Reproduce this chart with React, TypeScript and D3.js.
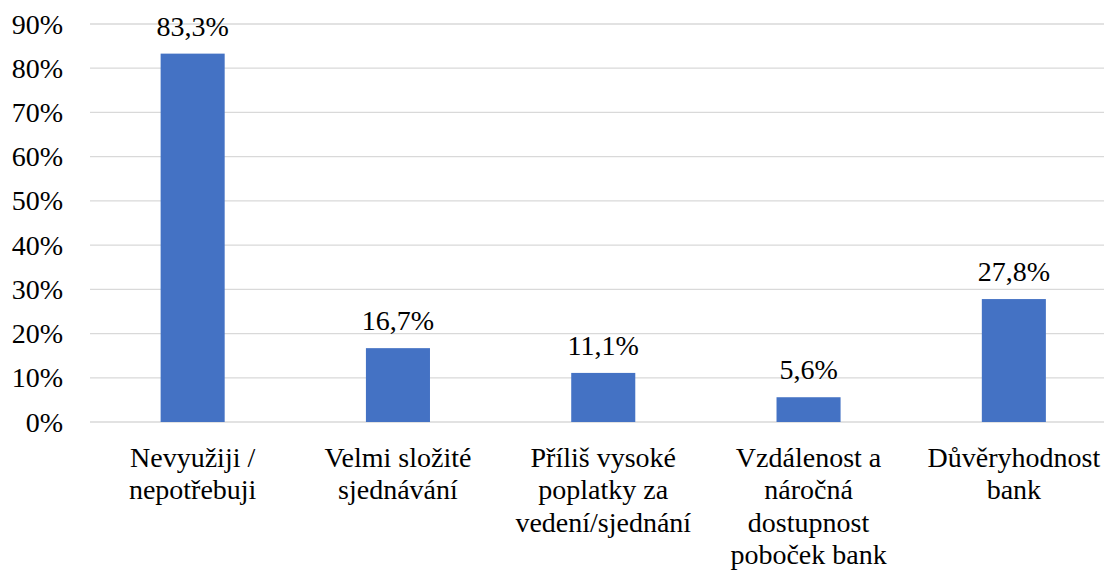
import React from "react";
import * as d3 from "d3";

const categories: string[][] = [
  ["Nevyužiji /", "nepotřebuji"],
  ["Velmi složité", "sjednávání"],
  ["Příliš vysoké", "poplatky za", "vedení/sjednání"],
  ["Vzdálenost a", "náročná", "dostupnost", "poboček bank"],
  ["Důvěryhodnost", "bank"],
];
const values: number[] = [83.3, 16.7, 11.1, 5.6, 27.8];
const valueLabels: string[] = ["83,3%", "16,7%", "11,1%", "5,6%", "27,8%"];
const yTicks: number[] = [0, 10, 20, 30, 40, 50, 60, 70, 80, 90];

const W = 1104;
const H = 572;
const FF = '"Liberation Serif", "Times New Roman", Tinos, Times, serif';

export default function App() {
  const x = d3
    .scaleBand<number>()
    .domain(values.map((_, i) => i))
    .range([90, 1116.5])
    .paddingInner(0.688)
    .paddingOuter(0.344);
  const y = d3.scaleLinear().domain([0, 90]).range([422, 24]);

  return (
    <svg
      width={W}
      height={H}
      style={{ display: "block", position: "fixed", left: 0, top: 0, background: "#fff", fontFamily: FF }}
    >
      <rect width={W} height={H} fill="#fff" />
      {yTicks.map((t) => (
        <g key={t}>
          <line x1={90} x2={W} y1={y(t)} y2={y(t)} stroke="#d9d9d9" strokeWidth={1.3} />
          <text x={63} y={y(t) + 9.5} textAnchor="end" fontSize={28} style={{ fontFamily: FF }} fill="#000">
            {t}%
          </text>
        </g>
      ))}
      {values.map((v, i) => {
        const bx = x(i)!;
        const bw = x.bandwidth();
        return (
          <g key={i}>
            <rect x={bx} y={y(v)} width={bw} height={y(0) - y(v)} fill="#4472C4" />
            <text
              x={bx + bw / 2}
              y={y(v) - 18}
              textAnchor="middle"
              fontSize={28}
              style={{ fontFamily: FF }}
              fill="#000"
            >
              {valueLabels[i]}
            </text>
            <text textAnchor="middle" fontSize={28} style={{ fontFamily: FF }} fill="#000">
              {categories[i].map((line, j) => (
                <tspan key={j} x={bx + bw / 2} y={467 + j * 32.3}>
                  {line}
                </tspan>
              ))}
            </text>
          </g>
        );
      })}
    </svg>
  );
}
